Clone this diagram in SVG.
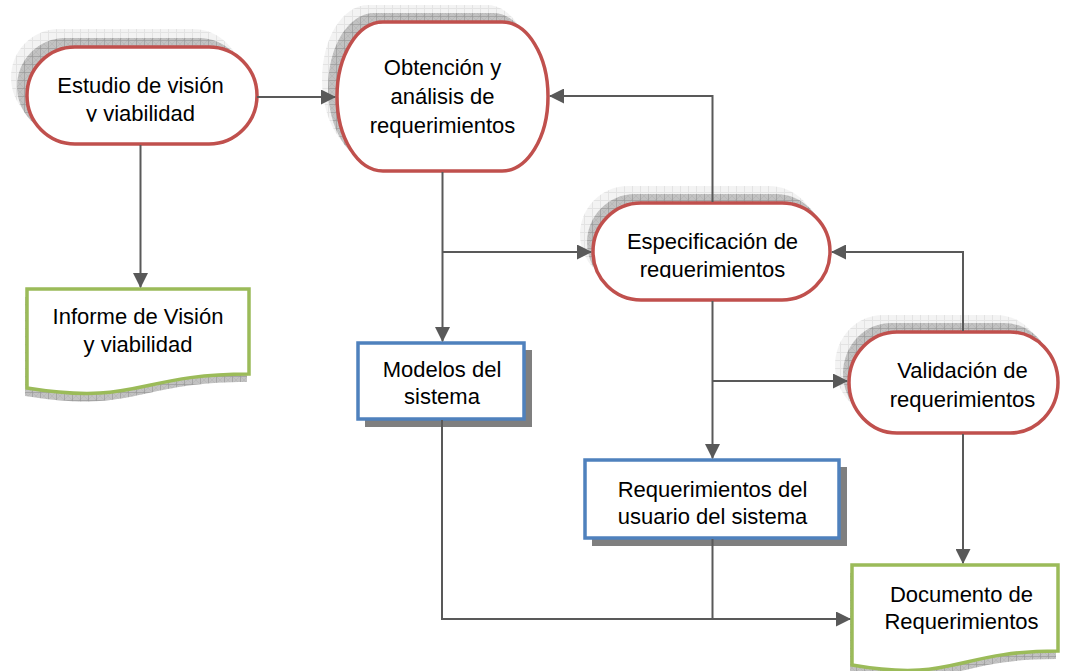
<svg xmlns="http://www.w3.org/2000/svg" width="1068" height="671" viewBox="0 0 1068 671">
<style>
  .t{font-family:"Liberation Sans",Arial,sans-serif;font-size:22px;fill:#000;text-anchor:middle}
  .proc{fill:#fff;stroke:#c0504d;stroke-width:3.5}
  .doc{fill:#fff;stroke:#9bbb59;stroke-width:3.5}
  .box{fill:#fff;stroke:#4f81bd;stroke-width:3.5}
  .boxsh{fill:#7f7f7f}
  .shL{fill:url(#gridLight)}
  .shD{fill:url(#gridDark)}
  .c{fill:none;stroke:#595959;stroke-width:2}
  .ca{fill:none;stroke:#595959;stroke-width:2;marker-end:url(#arr)}
</style>
<defs>
  <pattern id="gridLight" width="8" height="8" patternUnits="userSpaceOnUse">
    <rect width="8" height="8" fill="#f3f3f3"/>
    <path d="M0,0.5H8M0.5,0V8" stroke="#e3e3e3" stroke-width="1"/>
  </pattern>
  <pattern id="gridDark" width="8" height="8" patternUnits="userSpaceOnUse">
    <rect width="8" height="8" fill="#c2c2c2"/>
    <path d="M0,0L8,8M8,0L0,8" stroke="#b3b3b3" stroke-width="0.6"/>
    <path d="M0,0.5H8M0.5,0V8" stroke="#999" stroke-width="0.7"/>
  </pattern>
  <marker id="arr" markerUnits="userSpaceOnUse" markerWidth="15" markerHeight="15" refX="14" refY="7.5" orient="auto">
    <path d="M0,0L15,7.5L0,15Z" fill="#595959"/>
  </marker>
  <clipPath id="clip1"><rect x="0" y="0" width="1068" height="121.8"/></clipPath>
  <clipPath id="clip3"><rect x="0" y="0" width="1068" height="278"/></clipPath>
</defs>

<g id="n-estudio">
  <rect class="shL" x="11" y="29" width="230" height="97" rx="48" ry="48.5"/>
  <rect class="shD" x="17" y="38" width="230" height="97" rx="48" ry="48.5"/>
  <rect class="proc" x="27" y="47" width="230" height="97" rx="48" ry="48.5"/>
  <text class="t" x="140.5" y="93">Estudio de visión</text>
  <text class="t" x="140.5" y="121" clip-path="url(#clip1)">y viabilidad</text>
</g>

<g id="n-obtencion">
  <rect class="shL" x="322" y="5" width="211" height="149" rx="46" ry="74.5"/>
  <rect class="shD" x="328" y="13" width="211" height="149" rx="46" ry="74.5"/>
  <rect class="proc" x="337" y="22" width="211" height="149" rx="46" ry="74.5"/>
  <text class="t" x="442.5" y="74.5">Obtención y</text>
  <text class="t" x="442.5" y="104">análisis de</text>
  <text class="t" x="442.5" y="133">requerimientos</text>
</g>

<g id="n-especificacion">
  <rect class="shL" x="580" y="186" width="237" height="97" rx="48" ry="48.5"/>
  <rect class="shD" x="587" y="194" width="237" height="97" rx="48" ry="48.5"/>
  <rect class="proc" x="593" y="203" width="237" height="97" rx="48" ry="48.5"/>
  <text class="t" x="712.5" y="249">Especificación de</text>
  <text class="t" x="712.5" y="277" clip-path="url(#clip3)">requerimientos</text>
</g>

<g id="n-validacion">
  <rect class="shL" x="835" y="315" width="209" height="101" rx="48" ry="50.5"/>
  <rect class="shD" x="843" y="323" width="209" height="101" rx="48" ry="50.5"/>
  <rect class="proc" x="849" y="332" width="209" height="101" rx="48" ry="50.5"/>
  <text class="t" x="962.5" y="378">Validación de</text>
  <text class="t" x="962.5" y="407">requerimientos</text>
</g>

<g id="n-informe">
  <path class="shD" d="M25,297H247V382C136,382 136,414 25,396Z"/>
  <path class="doc" d="M27,289H249V374C138,374 138,406 27,388Z"/>
  <text class="t" x="138" y="324">Informe de Visión</text>
  <text class="t" x="138" y="352">y viabilidad</text>
</g>

<g id="n-documento">
  <path class="shD" d="M850,573H1056V659C953,659 953,691 850,673Z"/>
  <path class="doc" d="M852,565H1058V651C955,651 955,683 852,665Z"/>
  <text class="t" x="961.5" y="602">Documento de</text>
  <text class="t" x="961.5" y="629">Requerimientos</text>
</g>

<g id="n-modelos">
  <rect class="boxsh" x="365" y="350" width="167" height="77"/>
  <rect class="box" x="358" y="343" width="166" height="76"/>
  <text class="t" x="442" y="377">Modelos del</text>
  <text class="t" x="442" y="404">sistema</text>
</g>

<g id="n-requsuario">
  <rect class="boxsh" x="592" y="467" width="255" height="79"/>
  <rect class="box" x="585" y="460" width="254" height="78"/>
  <text class="t" x="712.5" y="497">Requerimientos del</text>
  <text class="t" x="712.5" y="524">usuario del sistema</text>
</g>

<g id="connectors">
  <path class="ca" d="M257,97H335"/>
  <path class="ca" d="M140.5,145V287"/>
  <path class="ca" d="M442.5,172V341"/>
  <path class="ca" d="M442.5,252H591"/>
  <path class="ca" d="M712.5,202V96H550"/>
  <path class="ca" d="M712.5,301V458"/>
  <path class="ca" d="M712.5,381H847"/>
  <path class="ca" d="M963,331V252H832"/>
  <path class="ca" d="M963,434V563"/>
  <path class="ca" d="M442,420V619H850"/>
  <path class="c" d="M712.5,539V619"/>
</g>
</svg>
